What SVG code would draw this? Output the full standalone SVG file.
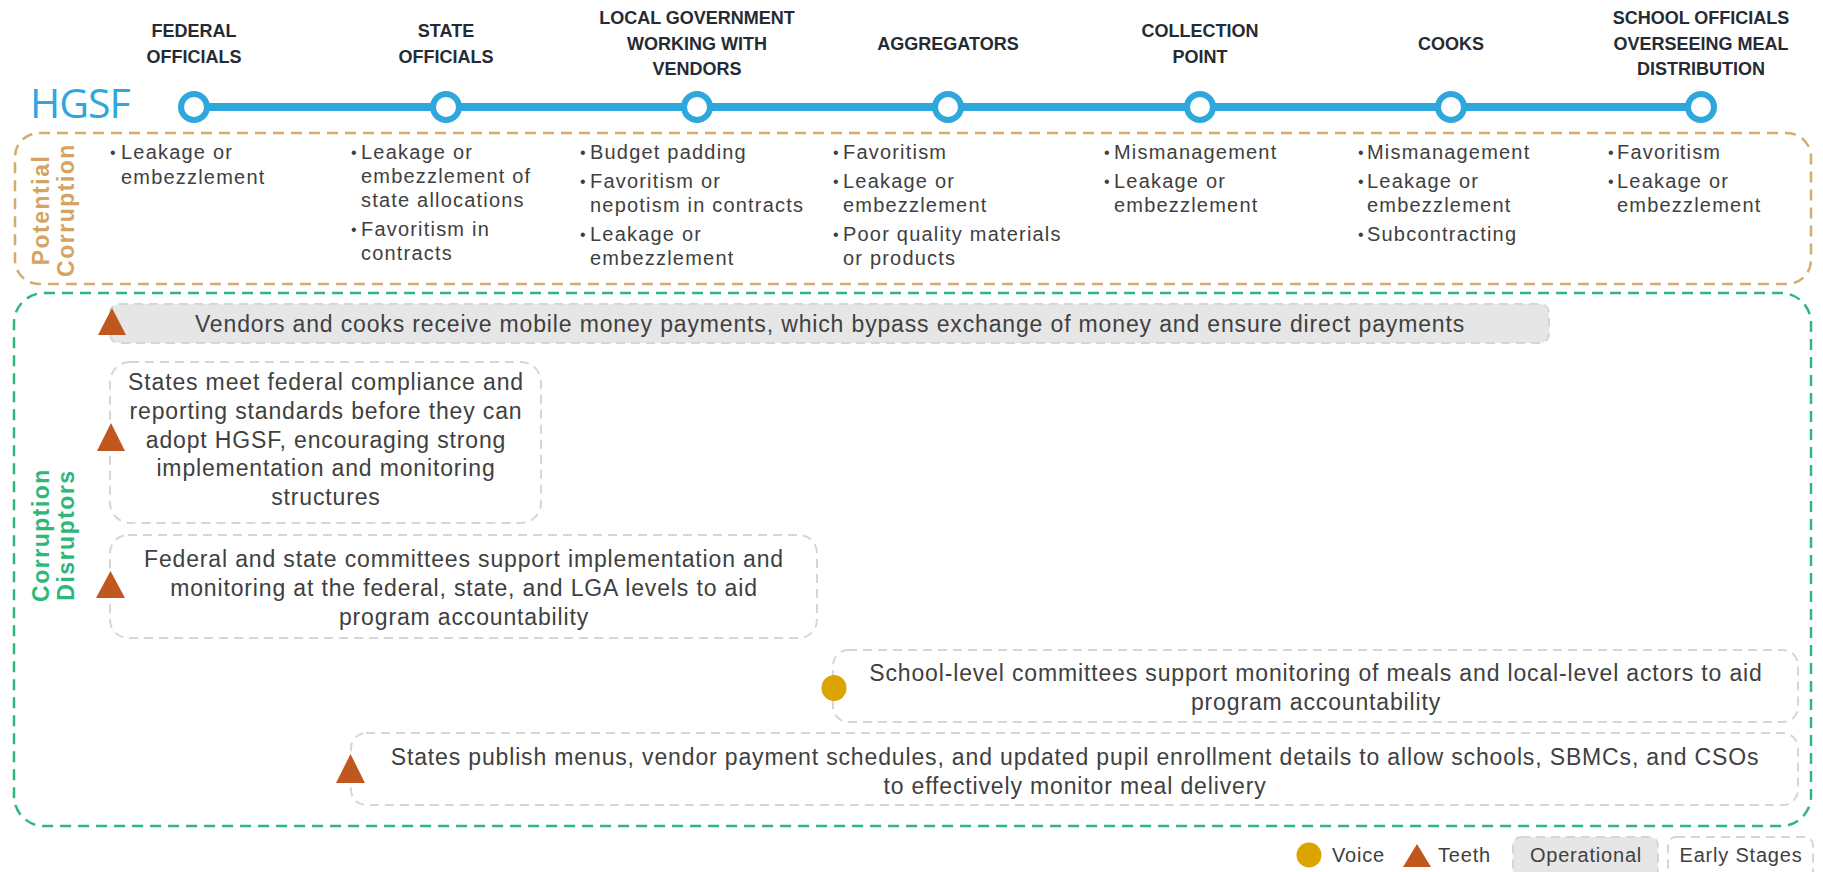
<svg xmlns="http://www.w3.org/2000/svg" width="1823" height="872" viewBox="0 0 1823 872">
<style>
.hdr{font-family:"Liberation Sans",Arial,sans-serif;font-weight:bold;font-size:18px;fill:#262b33;text-anchor:middle}
.pc{font-family:"Liberation Sans",Arial,sans-serif;font-size:20px;fill:#404040;letter-spacing:1.2px}
.bul{font-family:"Liberation Sans",Arial,sans-serif;font-size:16px;fill:#404040}
.dt{font-family:"Liberation Sans",Arial,sans-serif;font-size:23px;fill:#404040;letter-spacing:0.85px;text-anchor:middle}
.lg{font-family:"Liberation Sans",Arial,sans-serif;font-size:20px;fill:#404040;letter-spacing:0.8px}
.early{fill:#ffffff;stroke:#d6d6d6;stroke-width:2;stroke-dasharray:9 6}
.oper{fill:#e6e6e6;stroke:#d6d6d6;stroke-width:2;stroke-dasharray:9 6}
.teeth{fill:#c0571f}
.voice{fill:#dba400}
.stop{fill:#ffffff;stroke:#2ea7dd;stroke-width:6}
.orange{font-family:"Liberation Sans",Arial,sans-serif;font-weight:bold;font-size:23px;fill:#d4a464;letter-spacing:1.5px;text-anchor:middle}
.green{font-family:"Liberation Sans",Arial,sans-serif;font-weight:bold;font-size:23px;fill:#2db87a;letter-spacing:1.5px;text-anchor:middle}
</style>

<text x="30" y="118" font-family="Open Sans, sans-serif" font-size="41" fill="#2ea7dd" letter-spacing="-1">HGSF</text>

<g id="connectors">
  <line x1="194" y1="107" x2="1701" y2="107" stroke="#2ea7dd" stroke-width="8"/>
</g>

<g id="stage-federal">
  <text class="hdr"><tspan x="194" y="37">FEDERAL</tspan><tspan x="194" y="63">OFFICIALS</tspan></text>
  <circle class="stop" cx="194" cy="107" r="13"/>
</g>
<g id="stage-state">
  <text class="hdr"><tspan x="446" y="37">STATE</tspan><tspan x="446" y="63">OFFICIALS</tspan></text>
  <circle class="stop" cx="446" cy="107" r="13"/>
</g>
<g id="stage-local">
  <text class="hdr"><tspan x="697" y="24">LOCAL GOVERNMENT</tspan><tspan x="697" y="50">WORKING WITH</tspan><tspan x="697" y="75">VENDORS</tspan></text>
  <circle class="stop" cx="697" cy="107" r="13"/>
</g>
<g id="stage-aggregators">
  <text class="hdr"><tspan x="948" y="50">AGGREGATORS</tspan></text>
  <circle class="stop" cx="948" cy="107" r="13"/>
</g>
<g id="stage-collection">
  <text class="hdr"><tspan x="1200" y="37">COLLECTION</tspan><tspan x="1200" y="63">POINT</tspan></text>
  <circle class="stop" cx="1200" cy="107" r="13"/>
</g>
<g id="stage-cooks">
  <text class="hdr"><tspan x="1451" y="50">COOKS</tspan></text>
  <circle class="stop" cx="1451" cy="107" r="13"/>
</g>
<g id="stage-school">
  <text class="hdr"><tspan x="1701" y="24">SCHOOL OFFICIALS</tspan><tspan x="1701" y="50">OVERSEEING MEAL</tspan><tspan x="1701" y="75">DISTRIBUTION</tspan></text>
  <circle class="stop" cx="1701" cy="107" r="13"/>
</g>

<g id="potential-corruption">
  <rect x="15" y="133" width="1796" height="151" rx="24" fill="none" stroke="#d6ab6e" stroke-width="2.5" stroke-dasharray="11 7"/>
  <g transform="translate(49,210) rotate(-90)"><text class="orange" x="0" y="0">Potential</text></g>
  <g transform="translate(74,210) rotate(-90)"><text class="orange" x="0" y="0">Corruption</text></g>
</g>

<g id="pc-federal">
  <text class="bul" x="110" y="158">•</text>
  <text class="pc"><tspan x="121" y="159">Leakage or</tspan><tspan x="121" y="184">embezzlement</tspan></text>
</g>
<g id="pc-state">
  <text class="bul" x="351" y="158">•</text>
  <text class="bul" x="351" y="235">•</text>
  <text class="pc"><tspan x="361" y="159">Leakage or</tspan><tspan x="361" y="183">embezzlement of</tspan><tspan x="361" y="207">state allocations</tspan><tspan x="361" y="236">Favoritism in</tspan><tspan x="361" y="260">contracts</tspan></text>
</g>
<g id="pc-local">
  <text class="bul" x="580" y="158">•</text>
  <text class="bul" x="580" y="187">•</text>
  <text class="bul" x="580" y="240">•</text>
  <text class="pc"><tspan x="590" y="159">Budget padding</tspan><tspan x="590" y="188">Favoritism or</tspan><tspan x="590" y="212">nepotism in contracts</tspan><tspan x="590" y="241">Leakage or</tspan><tspan x="590" y="265">embezzlement</tspan></text>
</g>
<g id="pc-aggregators">
  <text class="bul" x="833" y="158">•</text>
  <text class="bul" x="833" y="187">•</text>
  <text class="bul" x="833" y="240">•</text>
  <text class="pc"><tspan x="843" y="159">Favoritism</tspan><tspan x="843" y="188">Leakage or</tspan><tspan x="843" y="212">embezzlement</tspan><tspan x="843" y="241">Poor quality materials</tspan><tspan x="843" y="265">or products</tspan></text>
</g>
<g id="pc-collection">
  <text class="bul" x="1104" y="158">•</text>
  <text class="bul" x="1104" y="187">•</text>
  <text class="pc"><tspan x="1114" y="159">Mismanagement</tspan><tspan x="1114" y="188">Leakage or</tspan><tspan x="1114" y="212">embezzlement</tspan></text>
</g>
<g id="pc-cooks">
  <text class="bul" x="1358" y="158">•</text>
  <text class="bul" x="1358" y="187">•</text>
  <text class="bul" x="1358" y="240">•</text>
  <text class="pc"><tspan x="1367" y="159">Mismanagement</tspan><tspan x="1367" y="188">Leakage or</tspan><tspan x="1367" y="212">embezzlement</tspan><tspan x="1367" y="241">Subcontracting</tspan></text>
</g>
<g id="pc-school">
  <text class="bul" x="1608" y="158">•</text>
  <text class="bul" x="1608" y="187">•</text>
  <text class="pc"><tspan x="1617" y="159">Favoritism</tspan><tspan x="1617" y="188">Leakage or</tspan><tspan x="1617" y="212">embezzlement</tspan></text>
</g>

<g id="corruption-disruptors">
  <rect x="14" y="293" width="1797" height="533" rx="30" fill="none" stroke="#2db87a" stroke-width="2.5" stroke-dasharray="11 7"/>
  <g transform="translate(49,535) rotate(-90)"><text class="green" x="0" y="0">Corruption</text></g>
  <g transform="translate(74,535) rotate(-90)"><text class="green" x="0" y="0">Disruptors</text></g>
</g>

<g id="d-mobile-money">
  <rect class="oper" x="110" y="304" width="1439" height="39" rx="9"/>
  <text class="dt" x="830" y="332">Vendors and cooks receive mobile money payments, which bypass exchange of money and ensure direct payments</text>
  <polygon class="teeth" points="98,335 126,335 112,308"/>
</g>
<g id="d-compliance">
  <rect class="early" x="110" y="362" width="431" height="161" rx="20"/>
  <text class="dt"><tspan x="326" y="390">States meet federal compliance and</tspan><tspan x="326" y="419">reporting standards before they can</tspan><tspan x="326" y="448">adopt HGSF, encouraging strong</tspan><tspan x="326" y="476">implementation and monitoring</tspan><tspan x="326" y="505">structures</tspan></text>
  <polygon class="teeth" points="97,451 125,451 111,423"/>
</g>
<g id="d-committees">
  <rect class="early" x="110" y="535" width="707" height="103" rx="18"/>
  <text class="dt"><tspan x="464" y="567">Federal and state committees support implementation and</tspan><tspan x="464" y="596">monitoring at the federal, state, and LGA levels to aid</tspan><tspan x="464" y="625">program accountability</tspan></text>
  <polygon class="teeth" points="96,598 125,598 110.5,571"/>
</g>
<g id="d-school-committees">
  <rect class="early" x="833" y="650" width="965" height="72" rx="15"/>
  <text class="dt"><tspan x="1316" y="681">School-level committees support monitoring of meals and local-level actors to aid</tspan><tspan x="1316" y="710">program accountability</tspan></text>
  <ellipse class="voice" cx="834" cy="688" rx="12.5" ry="13"/>
</g>
<g id="d-publish">
  <rect class="early" x="351" y="733" width="1447" height="72" rx="15"/>
  <text class="dt"><tspan x="1075" y="765">States publish menus, vendor payment schedules, and updated pupil enrollment details to allow schools, SBMCs, and CSOs</tspan><tspan x="1075" y="794">to effectively monitor meal delivery</tspan></text>
  <polygon class="teeth" points="336,783 365,783 350.5,754"/>
</g>

<g id="legend">
  <circle class="voice" cx="1309" cy="855" r="12.5"/>
  <text class="lg" x="1332" y="862">Voice</text>
  <polygon class="teeth" points="1403,867 1431,867 1417,844"/>
  <text class="lg" x="1438" y="862">Teeth</text>
  <rect class="oper" x="1513" y="837" width="145" height="45" rx="8"/>
  <text class="lg" x="1586" y="862" text-anchor="middle">Operational</text>
  <rect class="early" x="1668" y="837" width="145" height="45" rx="8"/>
  <text class="lg" x="1741" y="862" text-anchor="middle">Early Stages</text>
</g>
</svg>
